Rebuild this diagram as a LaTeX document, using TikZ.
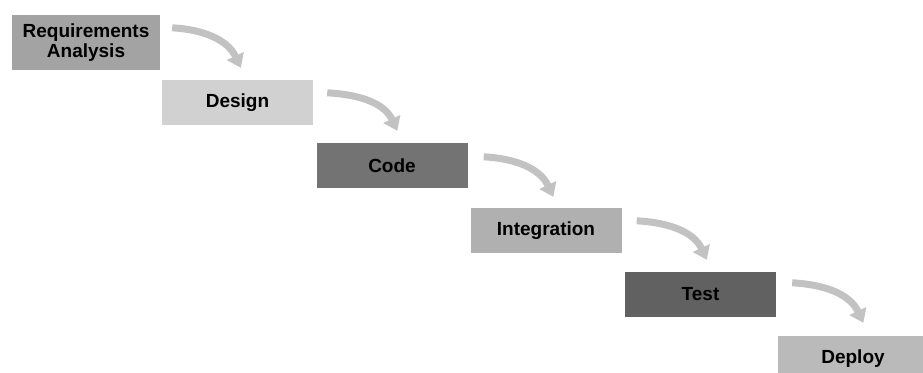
\documentclass[tikz,border=0pt]{standalone}
\usepackage{fontspec}
\setmainfont{Liberation Sans}
\usetikzlibrary{arrows.meta}
\tikzset{
 stage/.style={rectangle,inner sep=0pt,minimum width=151pt,minimum height=45pt,align=center,font=\fontsize{19}{20}\selectfont\bfseries},
 flow/.style={line width=7pt,black!24,-{Triangle[length=13pt,width=18pt]}}
}
\begin{document}
\begin{tikzpicture}[x=1pt,y=1pt]
 \useasboundingbox (0,0) rectangle (923,-372);
 \clip (0,0) rectangle (923,-372);
 \node[stage,fill=black!36,minimum width=148pt,minimum height=55pt](req) at (86,-42.5){Requirements\\Analysis};
 \node[stage,fill=black!18](design) at (237.5,-102.5){Design};
 \node[stage,fill=black!55](code) at (392,-165.5){Code};
 \node[stage,fill=black!31](integ) at (546,-230.5){Integration};
 \node[stage,fill=black!62](test) at (700.5,-294.5){Test};
 \node[stage,fill=black!27](deploy) at (853,-358.5){Deploy};
 \draw[flow]([shift={(12,-13)}]req.north east) to[out=-3,in=115] ([shift={(79,12)}]design.north west);
 \draw[flow]([shift={(14,-13)}]design.north east) to[out=-3,in=115] ([shift={(81,12)}]code.north west);
 \draw[flow]([shift={(16,-14)}]code.north east) to[out=-3,in=115] ([shift={(83,11)}]integ.north west);
 \draw[flow]([shift={(15,-13)}]integ.north east) to[out=-3,in=115] ([shift={(82,12)}]test.north west);
 \draw[flow]([shift={(16,-11)}]test.north east) to[out=-3,in=115] ([shift={(86,13)}]deploy.north west);
\end{tikzpicture}
\end{document}
